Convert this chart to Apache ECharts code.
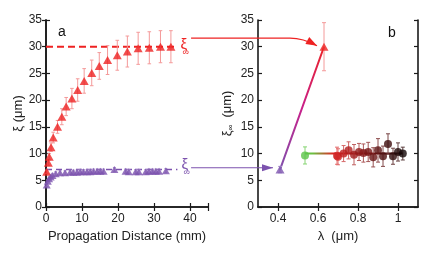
<!DOCTYPE html>
<html><head><meta charset="utf-8">
<script src="https://cdn.jsdelivr.net/npm/echarts@6/dist/echarts.min.js"></script>
<style>html,body{margin:0;padding:0;background:#fff}#c{width:436px;height:264px}</style>
</head><body><div id="c"></div><script>
// ---- Panel a: xi vs propagation distance ----
const redDist = [0.2, 0.65, 0.9, 1.4, 2.0, 3.2, 4.4, 5.6, 7.2, 8.8, 10.6, 12.7, 14.8, 17.1, 19.8, 22.6, 25.6, 28.7, 31.8, 34.7];
const redXi   = [6.6, 8.3, 9.4, 11.2, 13.0, 15.0, 16.9, 18.8, 20.3, 21.9, 23.6, 25.1, 26.4, 27.5, 28.4, 29.1, 29.7, 29.8, 30.0, 30.0];
const redErr  = [0.3, 0.5, 0.6, 0.8, 1.0, 1.2, 1.5, 1.7, 1.9, 2.1, 2.3, 2.4, 2.5, 2.7, 2.8, 2.9, 3.0, 3.0, 3.0, 3.0];
const purDist = [0.2, 0.5, 0.85, 1.3, 1.8, 2.7, 3.9, 5.3, 6.7, 7.6, 8.6, 9.5, 10.4, 11.4, 12.3, 13.2, 14.2, 15.1, 16.0, 19.0, 22.1, 23.0, 24.9, 25.8, 27.7, 28.6, 29.6, 30.5, 31.4, 33.3];
const purXi   = [4.1, 4.8, 5.3, 5.6, 5.9, 6.2, 6.4, 6.4, 6.5, 6.5, 6.5, 6.6, 6.6, 6.6, 6.6, 6.7, 6.7, 6.7, 6.7, 7.0, 6.7, 6.6, 6.6, 6.6, 6.6, 6.7, 6.7, 6.7, 6.7, 6.8];
const purErr  = [0.3, 0.3, 0.3, 0.4, 0.4, 0.4, 0.4, 0.4, 0.4, 0.4, 0.4, 0.4, 0.4, 0.4, 0.4, 0.4, 0.4, 0.4, 0.4, 0.4, 0.4, 0.4, 0.4, 0.4, 0.4, 0.4, 0.4, 0.4, 0.4, 0.4];
const xiInfRed = 30;
const xiInfPurple = 7;
const dashEnd = 36.5;           // mm, end of the xi_inf dashed guides
const arrowStartDist = 40.3;    // mm, where the connecting arrows start
const arrowLevelRed = 31.6;     // um
const arrowLevelPurple = 7.35;  // um

// ---- Panel b: xi_inf vs wavelength ----
const triLambda = [0.41, 0.63];
const triXi     = [7, 30];
const triErr    = [0.6, 4.5];
const greenLambda = [0.535];
const greenXi     = [9.65];
const greenErr    = [1.6];
const dotLambda = [0.695, 0.70, 0.728, 0.753, 0.78, 0.805, 0.827, 0.851, 0.876, 0.90, 0.925, 0.95, 0.975, 1.0, 1.024];
const dotXi     = [9.6, 9.4, 10.0, 10.6, 9.8, 10.3, 10.1, 10.3, 9.3, 10.6, 9.5, 11.8, 9.5, 10.3, 10.0];
const dotErr    = [1.6, 1.5, 1.5, 1.6, 1.9, 1.6, 1.7, 1.8, 1.8, 2.2, 1.9, 1.9, 1.5, 1.7, 1.2];
const meanLine = [[0.535, 10], [1.024, 10]];

// ---- ticks ----
const xTicksA = [0, 10, 20, 30, 40];
const yTicks  = [0, 5, 10, 15, 20, 25, 30, 35];
const xTicksB = [0.4, 0.6, 0.8, 1];

const FONT = 'Liberation Sans, Arial, Helvetica, sans-serif';
const RED = '#ee2222', RED_ERR = '#f49a9a';
const PUR = '#7c52ae', PUR_ERR = '#b39dd2';

function zip3(a, b, c) { return a.map((v, i) => [v, b[i], c[i]]); }
function mixColor(t, light) {
  const a = light ? [228, 110, 110] : [210, 36, 36], b = light ? [90, 60, 60] : [20, 8, 8];
  const c = a.map((v, i) => Math.round(v + (b[i] - v) * t));
  return 'rgb(' + c.join(',') + ')';
}
function tOf(l) {
  return Math.max(0, Math.min(1, (l - dotLambda[0]) / (dotLambda[dotLambda.length - 1] - dotLambda[0])));
}
function errRender(colorFn, cap) {
  return function (params, api) {
    const x = api.value(0), y = api.value(1), e = api.value(2);
    const lo = api.coord([x, y - e]), hi = api.coord([x, y + e]);
    const col = colorFn(x);
    const st = { stroke: col, lineWidth: 1 };
    return { type: 'group', children: [
      { type: 'line', shape: { x1: lo[0], y1: lo[1], x2: hi[0], y2: hi[1] }, style: st },
      { type: 'line', shape: { x1: lo[0] - cap, y1: lo[1], x2: lo[0] + cap, y2: lo[1] }, style: st },
      { type: 'line', shape: { x1: hi[0] - cap, y1: hi[1], x2: hi[0] + cap, y2: hi[1] }, style: st }
    ]};
  };
}

const axisLine = { show: true, lineStyle: { color: '#1a1a1a', width: 1.6 } };
const tickIn = { show: true, inside: true, length: 4, lineStyle: { color: '#1a1a1a', width: 1.2 } };
const lbl = { color: '#222', fontSize: 12, fontFamily: FONT };

function xAxisA(pos, labels) {
  return { type: 'value', gridIndex: 0, position: pos, min: 0, max: 45, interval: 10,
    axisLine, axisTick: tickIn, splitLine: { show: false },
    axisLabel: labels ? Object.assign({ margin: 6, customValues: xTicksA }, lbl) : { show: false },
    name: labels ? 'Propagation Distance (mm)' : '', nameLocation: 'middle', nameGap: 19,
    nameTextStyle: { fontSize: 13, color: '#222', fontFamily: FONT } };
}
function xAxisB(pos, labels) {
  return { type: 'value', gridIndex: 1, position: pos, min: 0.3, max: 1.1,
    axisLine, axisTick: Object.assign({ customValues: xTicksB }, tickIn), splitLine: { show: false },
    axisLabel: labels ? Object.assign({ margin: 6, customValues: xTicksB, formatter: v => String(+v.toFixed(1)) }, lbl) : { show: false, customValues: xTicksB },
    name: labels ? 'λ  (μm)' : '', nameLocation: 'middle', nameGap: 19,
    nameTextStyle: { fontSize: 13, color: '#222', fontFamily: FONT } };
}
function yAxis(grid, pos, labels, name, gap) {
  return { type: 'value', gridIndex: grid, position: pos, min: 0, max: 35, interval: 5,
    axisLine, axisTick: tickIn, splitLine: { show: false },
    axisLabel: labels ? Object.assign({ margin: 4, customValues: yTicks }, lbl) : { show: false },
    name: labels ? name : '', nameLocation: 'middle', nameGap: gap,
    nameTextStyle: { fontSize: 13, color: '#222', fontFamily: FONT,
      rich: { s: { fontSize: 8, color: '#222', fontFamily: FONT, padding: [7, 0, 0, 0] } } } };
}

const chart = echarts.init(document.getElementById('c'), null, { renderer: 'canvas' });
chart.setOption({
  animation: false,
  backgroundColor: '#fff',
  grid: [
    { left: 46, top: 20, width: 162, height: 187 },
    { left: 258, top: 20, width: 160, height: 187 }
  ],
  xAxis: [ xAxisA('bottom', true), xAxisA('top', false), xAxisB('bottom', true), xAxisB('top', false) ],
  yAxis: [ yAxis(0, 'left', true, 'ξ (μm)', 21), yAxis(0, 'right', false, '', 0),
           yAxis(1, 'left', true, 'ξ{s|∞}  (μm)', 23), yAxis(1, 'right', false, '', 0) ],
  series: [
    { type: 'line', xAxisIndex: 0, yAxisIndex: 0, data: [[0, xiInfRed], [dashEnd, xiInfRed]], symbol: 'none',
      lineStyle: { color: RED, width: 2, type: [7, 4] }, z: 1 },
    { type: 'line', xAxisIndex: 0, yAxisIndex: 0, data: [[0, xiInfPurple], [dashEnd, xiInfPurple]], symbol: 'none',
      lineStyle: { color: PUR, width: 1.5, type: [6, 4] }, z: 1 },
    { type: 'custom', xAxisIndex: 0, yAxisIndex: 0, data: zip3(redDist, redXi, redErr), renderItem: errRender(() => RED_ERR, 1.8), z: 2 },
    { type: 'custom', xAxisIndex: 0, yAxisIndex: 0, data: zip3(purDist, purXi, purErr), renderItem: errRender(() => PUR_ERR, 1.5), z: 2 },
    { type: 'scatter', xAxisIndex: 0, yAxisIndex: 0, data: redDist.map((v, i) => [v, redXi[i]]), symbol: 'triangle', symbolSize: [9, 8],
      itemStyle: { color: RED }, z: 3 },
    { type: 'scatter', xAxisIndex: 0, yAxisIndex: 0, data: purDist.map((v, i) => [v, purXi[i]]), symbol: 'triangle', symbolSize: [8, 7],
      itemStyle: { color: PUR }, z: 3 },
    { type: 'line', xAxisIndex: 2, yAxisIndex: 2, data: triLambda.map((v, i) => [v, triXi[i]]), symbol: 'none',
      lineStyle: { width: 2, color: new echarts.graphic.LinearGradient(0, 1, 0, 0, [
        { offset: 0, color: PUR }, { offset: 0.5, color: '#c8208a' }, { offset: 1, color: RED }]) }, z: 1 },
    { type: 'line', xAxisIndex: 2, yAxisIndex: 2, data: meanLine, symbol: 'none',
      lineStyle: { width: 2, color: new echarts.graphic.LinearGradient(0, 0, 1, 0, [
        { offset: 0, color: '#5cc44a' }, { offset: 0.1, color: '#6cbf40' }, { offset: 0.3, color: '#e02424' },
        { offset: 0.65, color: '#8a1414' }, { offset: 1, color: '#140606' }]) }, z: 1 },
    { type: 'custom', xAxisIndex: 2, yAxisIndex: 2, data: zip3(triLambda, triXi, triErr),
      renderItem: errRender(l => (l < 0.5 ? PUR_ERR : RED_ERR), 2), z: 2 },
    { type: 'custom', xAxisIndex: 2, yAxisIndex: 2, data: zip3(greenLambda, greenXi, greenErr),
      renderItem: errRender(() => '#86d472', 2), z: 2 },
    { type: 'custom', xAxisIndex: 2, yAxisIndex: 2, data: zip3(dotLambda, dotXi, dotErr),
      renderItem: errRender(l => mixColor(tOf(l), true), 2), z: 2 },
    { type: 'scatter', xAxisIndex: 2, yAxisIndex: 2, data: triLambda.map((v, i) => [v, triXi[i]]), symbol: 'triangle', symbolSize: [9, 8],
      itemStyle: { color: p => (p.value[0] < 0.5 ? PUR : RED) }, z: 3 },
    { type: 'scatter', xAxisIndex: 2, yAxisIndex: 2, data: greenLambda.map((v, i) => [v, greenXi[i]]), symbolSize: 8,
      itemStyle: { color: '#5cc44a' }, z: 3 },
    { type: 'scatter', xAxisIndex: 2, yAxisIndex: 2, data: dotLambda.map((v, i) => [v, dotXi[i]]), symbolSize: 8,
      itemStyle: { color: p => mixColor(tOf(p.value[0]), false) }, z: 3 }
  ]
});

// ---- annotations: xi_inf labels and connecting arrows ----
const pa = v => chart.convertToPixel({ xAxisIndex: 0, yAxisIndex: 0 }, v);
const pb = v => chart.convertToPixel({ xAxisIndex: 2, yAxisIndex: 2 }, v);

function arrowGraphic(start, tip, color, curve, headLen, headW) {
  const els = [];
  let ctrl;
  if (curve) {
    const bend = [tip[0] - 27, start[1]];
    ctrl = [tip[0] - 14, start[1]];
    els.push({ type: 'polyline', shape: { points: [start, bend] }, style: { stroke: color, lineWidth: 1.2, fill: null }, z: 100 });
    els.push({ type: 'bezierCurve', shape: { x1: bend[0], y1: bend[1], cpx1: ctrl[0], cpy1: ctrl[1], x2: tip[0], y2: tip[1] },
      style: { stroke: color, lineWidth: 1.2, fill: null }, z: 100 });
  } else {
    ctrl = start;
    els.push({ type: 'line', shape: { x1: start[0], y1: start[1], x2: tip[0], y2: tip[1] }, style: { stroke: color, lineWidth: 1.2 }, z: 100 });
  }
  let dx = tip[0] - ctrl[0], dy = tip[1] - ctrl[1];
  const L = Math.hypot(dx, dy); dx /= L; dy /= L;
  const bx = tip[0] - headLen * dx, by = tip[1] - headLen * dy;
  els.push({ type: 'polygon', shape: { points: [tip, [bx - headW * dy, by + headW * dx], [bx + headW * dy, by - headW * dx]] },
    style: { fill: color }, z: 101 });
  return els;
}
function xiLabel(pos, color) {
  return [
    { type: 'text', x: pos[0], y: pos[1], z: 100,
      style: { text: 'ξ', fill: color, fontSize: 15, fontFamily: FONT, verticalAlign: 'middle', align: 'left' } },
    { type: 'text', x: pos[0] + 2, y: pos[1] + 8, z: 100,
      style: { text: '∞', fill: color, fontSize: 9, fontFamily: FONT, verticalAlign: 'middle', align: 'left' } }
  ];
}

const redDashEnd = pa([dashEnd, xiInfRed]);
const purDashEnd = pa([dashEnd, xiInfPurple]);
const redStart = pa([arrowStartDist, arrowLevelRed]);
const purStart = pa([arrowStartDist, arrowLevelPurple]);
const redTri = pb([triLambda[1], triXi[1]]);
const purTri = pb([triLambda[0], triXi[0]]);
const redTip = [redTri[0] - 7, redTri[1] - 1];
const purTip = [purTri[0] - 7, purStart[1]];

chart.setOption({
  graphic: [
    ...xiLabel([redDashEnd[0] + 3, redDashEnd[1] - 2], RED),
    ...xiLabel([purDashEnd[0] + 4, purDashEnd[1] - 5], PUR),
    ...arrowGraphic(redStart, redTip, RED, true, 11, 4),
    ...arrowGraphic(purStart, purTip, PUR, false, 11, 3.5),
    { type: 'text', x: 58, y: 25, style: { text: 'a', fontSize: 14, fontFamily: FONT, fill: '#111' }, z: 100 },
    { type: 'text', x: 388, y: 26, style: { text: 'b', fontSize: 14, fontFamily: FONT, fill: '#111' }, z: 100 }
  ]
});
</script></body></html>
